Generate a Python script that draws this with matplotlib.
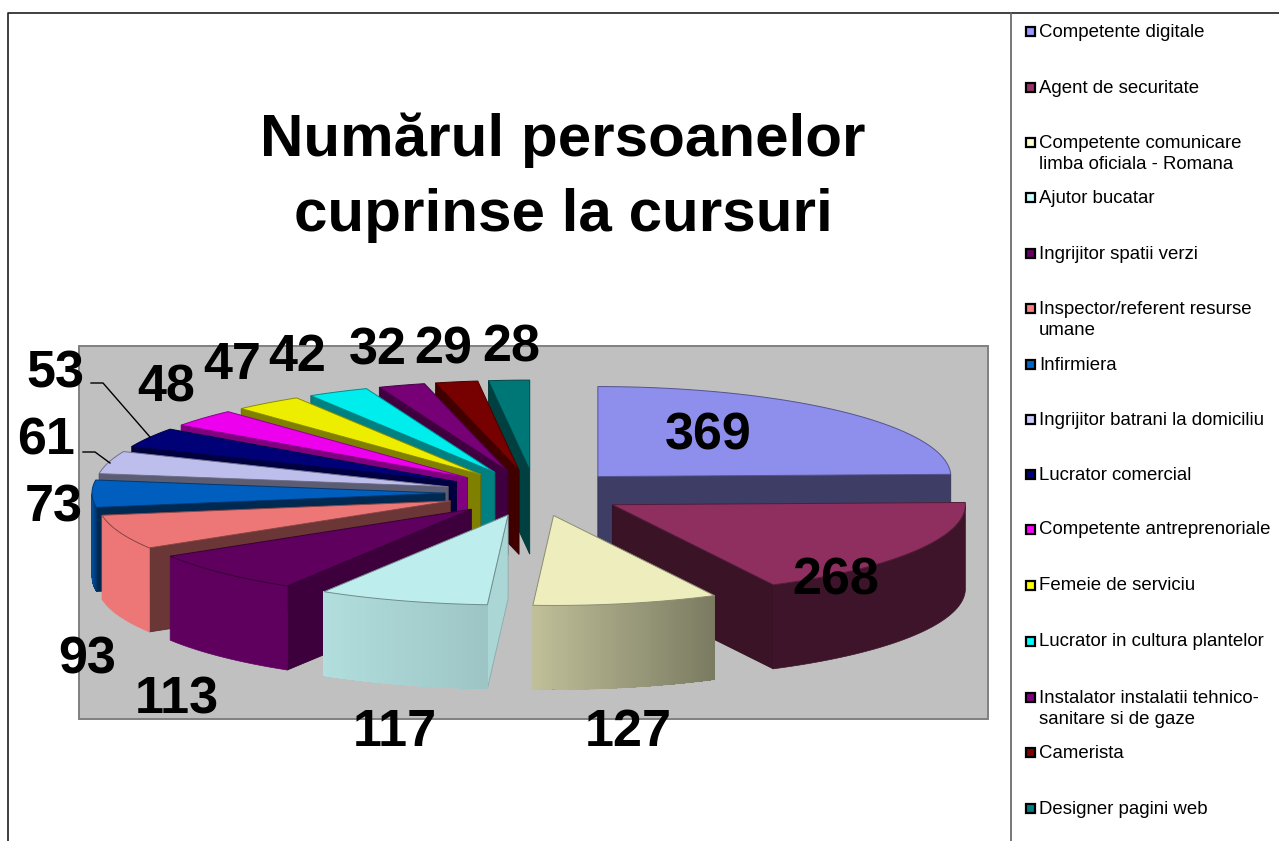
#!/usr/bin/env python3
# exploded 3D pie, drawn by hand because matplotlib has no 3D pie
import numpy as np
import matplotlib
matplotlib.use("Agg")
import matplotlib.pyplot as plt
from matplotlib.patches import Polygon, Rectangle

plt.rcParams['font.family'] = ['Liberation Sans', 'DejaVu Sans']

title = "Numărul persoanelor\ncuprinse la cursuri"
names = ["Competente digitale", "Agent de securitate",
         "Competente comunicare\nlimba oficiala - Romana", "Ajutor bucatar",
         "Ingrijitor spatii verzi", "Inspector/referent resurse\numane",
         "Infirmiera", "Ingrijitor batrani la domiciliu", "Lucrator comercial",
         "Competente antreprenoriale", "Femeie de serviciu",
         "Lucrator in cultura plantelor",
         "Instalator instalatii tehnico-\nsanitare si de gaze", "Camerista",
         "Designer pagini web"]
values = [369, 268, 127, 117, 113, 93, 73, 61, 53, 48, 47, 42, 32, 29, 28]
colors = ["#9999FF", "#993366", "#FFFFCC", "#CCFFFF", "#660066", "#FF8080",
          "#0066CC", "#CCCCFF", "#000080", "#FF00FF", "#FFFF00", "#00FFFF",
          "#800080", "#800000", "#008080"]

# where things sit on the page, in pixels
label_xy = [(708, 431), (836, 576), (628, 727), (395, 727), (177, 695), (87, 655),
            (54, 503), (46, 436), (55, 369), (166, 383), (232, 360), (297, 352),
            (378, 346), (443, 345), (511, 343)]
legend_y = [31, 87, 153, 197, 253, 319, 364, 419, 474, 529, 585, 641, 708, 752, 808]

cx, cy = 535, 493      # pie centre
rx, ry = 353, 90       # top ellipse radii
depth = 84
explode = 0.255

# wall brightness at the left and right end of each rim, cut face brightness
wall_left = [.40, .40, .75, .87, .93, .93, .75, .60, .50, .50, .50, .50, .50, .50, .50]
wall_right = [.40, .40, .48, .77, .93, .93, .50, .60, .50, .50, .50, .50, .50, .50, .50]
cut_fac = [.40, .38, .60, .84, .60, .42, .40, .45, .50, .50, .50, .50, .50, .50, .50]


def shade(color, f):
    return tuple(c * f for c in matplotlib.colors.to_rgb(color))


def draw_slice(ax, i, a0, a1):
    mid = (a0 + a1) / 2
    ax_x = cx + explode * rx * np.sin(mid)
    ax_y = cy - explode * ry * np.cos(mid)
    th = np.linspace(a0, a1, 60)
    xs = ax_x + rx * np.sin(th)
    ys = ax_y - ry * np.cos(th)
    mx = ax_x + .6 * rx * np.sin(mid)
    my = ax_y - .6 * ry * np.cos(mid)

    # flat cut faces, only the ones turned to the viewer
    for a in (a0, a1):
        ex = ax_x + rx * np.sin(a)
        ey = ax_y - ry * np.cos(a)
        if abs(ex - ax_x) < 1:
            continue
        line_y = ax_y + (ey - ax_y) * (mx - ax_x) / (ex - ax_x)
        if my < line_y:
            col = shade(colors[i], cut_fac[i])
            ax.add_patch(Polygon([(ax_x, ax_y), (ex, ey), (ex, ey + depth), (ax_x, ax_y + depth)],
                                 closed=True, fc=col, ec=shade(colors[i], cut_fac[i] * .8), lw=.6))

    # outer wall: one base polygon, then strips for the gradient
    front = np.cos(th) <= 0
    if front.sum() > 1:
        wx, wy = xs[front], ys[front]
        base = shade(colors[i], (wall_left[i] + wall_right[i]) / 2)
        ax.add_patch(Polygon(list(zip(wx, wy)) + list(zip(wx[::-1], wy[::-1] + depth)),
                             closed=True, fc=base, ec=base, lw=.5))
        if wall_left[i] != wall_right[i]:
            for k in range(len(wx) - 1):
                frac = ((wx[k] + wx[k + 1]) / 2 - wx.min()) / (wx.max() - wx.min())
                f = wall_left[i] + (wall_right[i] - wall_left[i]) * frac
                ax.add_patch(Polygon([(wx[k], wy[k]), (wx[k + 1], wy[k + 1]),
                                      (wx[k + 1], wy[k + 1] + depth), (wx[k], wy[k] + depth)],
                                     closed=True, fc=shade(colors[i], f), lw=0, antialiased=False))

    # top
    pts = [(ax_x, ax_y)] + list(zip(xs, ys))
    ax.add_patch(Polygon(pts, closed=True, fc=shade(colors[i], .93),
                         ec=shade(colors[i], .55), lw=.7))


def main():
    fig = plt.figure(figsize=(12.79, 8.41), dpi=100)
    ax = fig.add_axes([0, 0, 1, 1])
    ax.set_xlim(0, 1279)
    ax.set_ylim(841, 0)
    ax.axis('off')

    # frames
    ax.plot([7.5, 7.5, 1279], [841, 12.5, 12.5], color='#202020', lw=1.2)
    ax.plot([1011, 1011], [12.5, 841], color='#606060', lw=1.2)
    ax.add_patch(Rectangle((79, 346), 909, 373, fc='#C0C0C0', ec='#808080', lw=1.4))

    edges = np.cumsum([0] + values) / sum(values) * 2 * np.pi
    order = list(range(len(values) - 1, 2, -1)) + [0, 1, 2]
    for i in order:
        draw_slice(ax, i, edges[i], edges[i + 1])

    # leader lines for 53 and 61
    ax.plot([91, 103, 150], [383, 383, 437], color='black', lw=1)
    ax.plot([83, 95, 110], [452, 452, 463], color='black', lw=1)

    for v, (x, y) in zip(values, label_xy):
        ax.text(x, y + 5, str(v), fontsize=37.5, fontweight='bold', ha='center', va='center')

    ax.text(563, 177.5, title, fontsize=43.3, fontweight='bold', ha='center', va='center',
            linespacing=1.46)

    for name, col, y in zip(names, colors, legend_y):
        first_y = y - 11 if "\n" in name else y
        ax.add_patch(Rectangle((1025.5, first_y - 4.5), 9, 9, fc=col, ec='black', lw=1.6))
        ax.text(1039, y + 1, name, fontsize=13.4, ha='left', va='center', linespacing=1.32)

    fig.savefig("out.png", dpi=100)


if __name__ == '__main__':
    main()
